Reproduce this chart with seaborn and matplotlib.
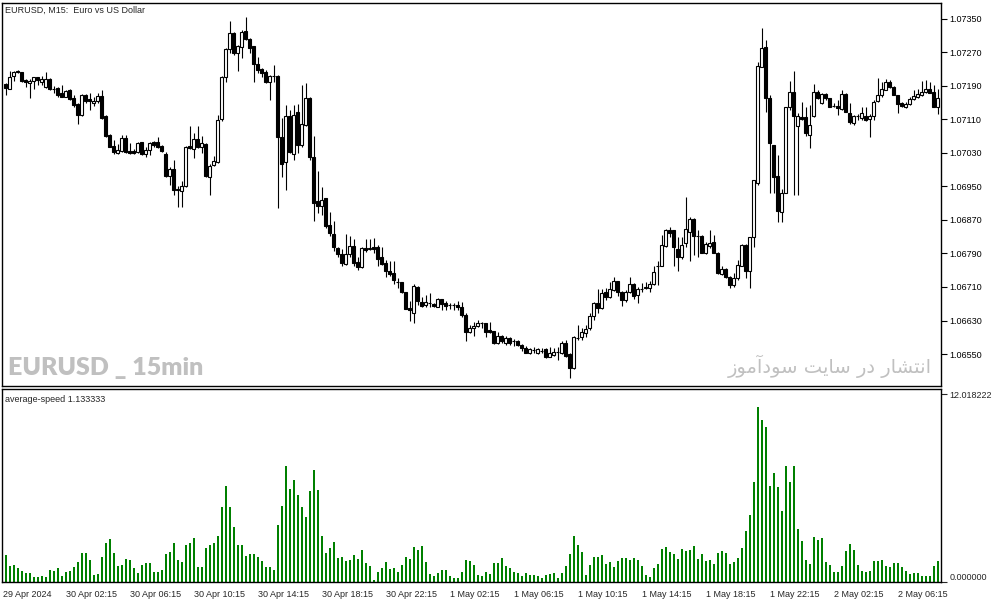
import numpy as np
import pandas as pd
import matplotlib.pyplot as plt
import seaborn as sns

# EURUSD M15 candles (29 Apr 22:30 -> 2 May 08:45)
opens = [1.07195, 1.07183, 1.07214, 1.07226, 1.07223, 1.07204, 1.07197, 1.07201, 1.07210, 1.07199,
         1.07187, 1.07206, 1.07182, 1.07185, 1.07172, 1.07164, 1.07179, 1.07160, 1.07147, 1.07121,
         1.07168, 1.07158, 1.07148, 1.07153, 1.07166, 1.07118, 1.07073, 1.07047, 1.07029, 1.07035,
         1.07066, 1.07035, 1.07035, 1.07033, 1.07055, 1.07028, 1.07037, 1.07055, 1.07055, 1.07047,
         1.07028, 1.06975, 1.06991, 1.06943, 1.06940, 1.06950, 1.07047, 1.07040, 1.07062, 1.07045,
         1.07052, 1.06973, 1.07000, 1.07008, 1.07112, 1.07212, 1.07277, 1.07315, 1.07268, 1.07282,
         1.07321, 1.07301, 1.07284, 1.07242, 1.07231, 1.07222, 1.07200, 1.07214, 1.07214, 1.07069,
         1.07008, 1.07117, 1.07028, 1.07128, 1.07049, 1.07097, 1.07160, 1.07021, 1.06915, 1.06904,
         1.06922, 1.06858, 1.06837, 1.06802, 1.06789, 1.06765, 1.06789, 1.06808, 1.06770, 1.06757,
         1.06804, 1.06800, 1.06806, 1.06805, 1.06782, 1.06767, 1.06748, 1.06744, 1.06722, 1.06722,
         1.06698, 1.06660, 1.06649, 1.06711, 1.06674, 1.06666, 1.06671, 1.06670, 1.06663, 1.06681,
         1.06673, 1.06667, 1.06667, 1.06668, 1.06663, 1.06642, 1.06603, 1.06611, 1.06618, 1.06624,
         1.06623, 1.06607, 1.06605, 1.06576, 1.06594, 1.06576, 1.06589, 1.06580, 1.06582, 1.06572,
         1.06564, 1.06553, 1.06560, 1.06553, 1.06558, 1.06561, 1.06544, 1.06548, 1.06556, 1.06552,
         1.06577, 1.06550, 1.06516, 1.06589, 1.06590, 1.06601, 1.06611, 1.06641, 1.06671, 1.06659,
         1.06698, 1.06687, 1.06703, 1.06724, 1.06698, 1.06679, 1.06697, 1.06716, 1.06691, 1.06706,
         1.06707, 1.06707, 1.06716, 1.06760, 1.06760, 1.06808, 1.06845, 1.06845, 1.06801, 1.06781,
         1.06816, 1.06842, 1.06872, 1.06832, 1.06832, 1.06792, 1.06808, 1.06817, 1.06792, 1.06741,
         1.06753, 1.06735, 1.06715, 1.06731, 1.06761, 1.06810, 1.06747, 1.06829, 1.06959, 1.07236,
         1.07282, 1.07160, 1.07049, 1.06975, 1.06890, 1.06935, 1.07139, 1.07175, 1.07094, 1.07115,
         1.07115, 1.07073, 1.07117, 1.07175, 1.07148, 1.07171, 1.07160, 1.07142, 1.07142, 1.07134,
         1.07170, 1.07126, 1.07101, 1.07119, 1.07113, 1.07118, 1.07110, 1.07117, 1.07155, 1.07168,
         1.07180, 1.07200, 1.07188, 1.07168, 1.07148, 1.07140, 1.07147, 1.07159, 1.07164, 1.07168,
         1.07176, 1.07182, 1.07176, 1.07140]

highs = [1.07196, 1.07226, 1.07226, 1.07228, 1.07224, 1.07206, 1.07206, 1.07212, 1.07212, 1.07214,
         1.07222, 1.07208, 1.07190, 1.07187, 1.07191, 1.07180, 1.07182, 1.07168, 1.07150, 1.07171,
         1.07171, 1.07172, 1.07164, 1.07172, 1.07179, 1.07121, 1.07074, 1.07061, 1.07052, 1.07073,
         1.07073, 1.07053, 1.07039, 1.07057, 1.07057, 1.07045, 1.07057, 1.07059, 1.07069, 1.07048,
         1.07031, 1.06997, 1.07013, 1.06950, 1.06962, 1.07047, 1.07094, 1.07077, 1.07093, 1.07070,
         1.07053, 1.07004, 1.07023, 1.07121, 1.07214, 1.07280, 1.07345, 1.07318, 1.07288, 1.07323,
         1.07355, 1.07304, 1.07284, 1.07260, 1.07232, 1.07228, 1.07216, 1.07239, 1.07215, 1.07113,
         1.07144, 1.07132, 1.07144, 1.07147, 1.07192, 1.07196, 1.07163, 1.07070, 1.06987, 1.06948,
         1.06922, 1.06889, 1.06868, 1.06805, 1.06800, 1.06837, 1.06832, 1.06824, 1.06781, 1.06805,
         1.06825, 1.06825, 1.06827, 1.06810, 1.06805, 1.06775, 1.06772, 1.06771, 1.06732, 1.06723,
         1.06699, 1.06677, 1.06717, 1.06712, 1.06685, 1.06692, 1.06695, 1.06673, 1.06684, 1.06682,
         1.06677, 1.06673, 1.06673, 1.06677, 1.06674, 1.06647, 1.06619, 1.06627, 1.06631, 1.06627,
         1.06625, 1.06627, 1.06606, 1.06603, 1.06595, 1.06592, 1.06590, 1.06585, 1.06584, 1.06573,
         1.06569, 1.06564, 1.06568, 1.06564, 1.06564, 1.06564, 1.06568, 1.06564, 1.06568, 1.06582,
         1.06584, 1.06552, 1.06592, 1.06619, 1.06611, 1.06619, 1.06647, 1.06675, 1.06705, 1.06706,
         1.06707, 1.06722, 1.06735, 1.06725, 1.06700, 1.06703, 1.06735, 1.06719, 1.06709, 1.06719,
         1.06723, 1.06724, 1.06760, 1.06771, 1.06834, 1.06848, 1.06854, 1.06846, 1.06829, 1.06830,
         1.06924, 1.06878, 1.06874, 1.06846, 1.06833, 1.06818, 1.06846, 1.06834, 1.06794, 1.06759,
         1.06755, 1.06736, 1.06743, 1.06775, 1.06813, 1.06813, 1.06829, 1.06966, 1.07248, 1.07327,
         1.07300, 1.07168, 1.07049, 1.07025, 1.06943, 1.07140, 1.07202, 1.07226, 1.07126, 1.07152,
         1.07140, 1.07144, 1.07195, 1.07179, 1.07172, 1.07172, 1.07161, 1.07148, 1.07156, 1.07180,
         1.07172, 1.07148, 1.07121, 1.07123, 1.07139, 1.07139, 1.07123, 1.07156, 1.07208, 1.07198,
         1.07206, 1.07204, 1.07190, 1.07168, 1.07152, 1.07152, 1.07164, 1.07180, 1.07182, 1.07202,
         1.07204, 1.07200, 1.07192, 1.07182]

lows = [1.07167, 1.07182, 1.07202, 1.07220, 1.07200, 1.07187, 1.07160, 1.07182, 1.07193, 1.07192,
        1.07184, 1.07180, 1.07174, 1.07164, 1.07163, 1.07163, 1.07156, 1.07140, 1.07099, 1.07118,
        1.07150, 1.07132, 1.07142, 1.07148, 1.07110, 1.07067, 1.07043, 1.07028, 1.07028, 1.07033,
        1.07029, 1.07028, 1.07028, 1.07029, 1.07025, 1.07021, 1.07025, 1.07045, 1.07041, 1.07033,
        1.06972, 1.06954, 1.06930, 1.06900, 1.06902, 1.06948, 1.07039, 1.07017, 1.07041, 1.07029,
        1.06972, 1.06930, 1.06999, 1.07007, 1.07105, 1.07200, 1.07268, 1.07264, 1.07226, 1.07256,
        1.07300, 1.07268, 1.07200, 1.07220, 1.07212, 1.07196, 1.07156, 1.07200, 1.06898, 1.06973,
        1.06941, 1.07029, 1.07013, 1.07029, 1.07045, 1.07094, 1.07013, 1.06868, 1.06886, 1.06882,
        1.06850, 1.06832, 1.06797, 1.06781, 1.06759, 1.06763, 1.06781, 1.06760, 1.06751, 1.06755,
        1.06794, 1.06798, 1.06790, 1.06759, 1.06763, 1.06733, 1.06736, 1.06716, 1.06708, 1.06695,
        1.06657, 1.06630, 1.06625, 1.06667, 1.06662, 1.06663, 1.06662, 1.06663, 1.06662, 1.06654,
        1.06654, 1.06657, 1.06655, 1.06654, 1.06638, 1.06580, 1.06600, 1.06592, 1.06615, 1.06611,
        1.06590, 1.06600, 1.06573, 1.06573, 1.06576, 1.06572, 1.06572, 1.06570, 1.06569, 1.06558,
        1.06552, 1.06551, 1.06552, 1.06550, 1.06552, 1.06541, 1.06542, 1.06545, 1.06536, 1.06550,
        1.06544, 1.06494, 1.06514, 1.06584, 1.06584, 1.06590, 1.06607, 1.06631, 1.06647, 1.06657,
        1.06679, 1.06683, 1.06701, 1.06689, 1.06665, 1.06675, 1.06695, 1.06681, 1.06671, 1.06699,
        1.06705, 1.06697, 1.06715, 1.06715, 1.06759, 1.06805, 1.06829, 1.06760, 1.06749, 1.06776,
        1.06805, 1.06773, 1.06786, 1.06782, 1.06790, 1.06789, 1.06802, 1.06790, 1.06741, 1.06739,
        1.06731, 1.06707, 1.06711, 1.06727, 1.06759, 1.06731, 1.06707, 1.06806, 1.06954, 1.07234,
        1.07128, 1.06934, 1.06934, 1.06866, 1.06864, 1.06934, 1.07132, 1.06930, 1.06930, 1.07109,
        1.07070, 1.07041, 1.07115, 1.07158, 1.07147, 1.07156, 1.07139, 1.07139, 1.07121, 1.07132,
        1.07127, 1.07099, 1.07097, 1.07109, 1.07109, 1.07105, 1.07069, 1.07109, 1.07152, 1.07164,
        1.07179, 1.07184, 1.07167, 1.07126, 1.07139, 1.07138, 1.07144, 1.07156, 1.07161, 1.07166,
        1.07174, 1.07172, 1.07139, 1.07123]

closes = [1.07184, 1.07212, 1.07222, 1.07222, 1.07202, 1.07200, 1.07202, 1.07210, 1.07204, 1.07207,
          1.07207, 1.07182, 1.07182, 1.07167, 1.07164, 1.07177, 1.07158, 1.07144, 1.07121, 1.07168,
          1.07155, 1.07153, 1.07155, 1.07166, 1.07113, 1.07070, 1.07045, 1.07031, 1.07037, 1.07066,
          1.07033, 1.07029, 1.07029, 1.07053, 1.07028, 1.07037, 1.07053, 1.07048, 1.07045, 1.07035,
          1.06975, 1.06991, 1.06941, 1.06942, 1.06951, 1.07045, 1.07041, 1.07062, 1.07045, 1.07053,
          1.06975, 1.06999, 1.07010, 1.07109, 1.07210, 1.07277, 1.07315, 1.07268, 1.07284, 1.07319,
          1.07301, 1.07280, 1.07241, 1.07228, 1.07220, 1.07200, 1.07214, 1.07214, 1.07067, 1.07004,
          1.07117, 1.07031, 1.07121, 1.07049, 1.07099, 1.07160, 1.07020, 1.06910, 1.06904, 1.06918,
          1.06856, 1.06838, 1.06806, 1.06789, 1.06768, 1.06789, 1.06808, 1.06768, 1.06757, 1.06802,
          1.06799, 1.06804, 1.06801, 1.06778, 1.06765, 1.06747, 1.06740, 1.06727, 1.06722, 1.06697,
          1.06658, 1.06654, 1.06712, 1.06677, 1.06665, 1.06674, 1.06671, 1.06665, 1.06681, 1.06670,
          1.06665, 1.06667, 1.06666, 1.06662, 1.06642, 1.06603, 1.06611, 1.06618, 1.06625, 1.06623,
          1.06603, 1.06603, 1.06576, 1.06594, 1.06580, 1.06588, 1.06576, 1.06580, 1.06572, 1.06564,
          1.06553, 1.06561, 1.06560, 1.06561, 1.06558, 1.06544, 1.06552, 1.06556, 1.06556, 1.06576,
          1.06545, 1.06517, 1.06590, 1.06588, 1.06603, 1.06609, 1.06641, 1.06671, 1.06659, 1.06695,
          1.06687, 1.06705, 1.06724, 1.06697, 1.06679, 1.06697, 1.06716, 1.06689, 1.06705, 1.06706,
          1.06711, 1.06717, 1.06745, 1.06760, 1.06810, 1.06845, 1.06840, 1.06805, 1.06781, 1.06810,
          1.06848, 1.06872, 1.06832, 1.06832, 1.06792, 1.06812, 1.06816, 1.06792, 1.06743, 1.06753,
          1.06733, 1.06715, 1.06731, 1.06763, 1.06810, 1.06747, 1.06829, 1.06965, 1.07237, 1.07280,
          1.07160, 1.07053, 1.06973, 1.06892, 1.06935, 1.07139, 1.07175, 1.07117, 1.07117, 1.07110,
          1.07078, 1.07097, 1.07175, 1.07160, 1.07170, 1.07160, 1.07140, 1.07142, 1.07136, 1.07170,
          1.07128, 1.07103, 1.07117, 1.07119, 1.07126, 1.07109, 1.07118, 1.07152, 1.07169, 1.07182,
          1.07200, 1.07187, 1.07168, 1.07147, 1.07142, 1.07147, 1.07159, 1.07166, 1.07170, 1.07176,
          1.07182, 1.07174, 1.07140, 1.07160]

# average-speed indicator (green histogram)
speed = [1.73, 1.02, 1.09, 0.90, 0.70, 0.58, 0.58, 0.32, 0.32, 0.38,
         0.32, 0.77, 0.70, 0.90, 0.38, 0.64, 0.70, 0.96, 1.28, 1.86,
         1.86, 1.41, 0.45, 0.51, 1.60, 2.49, 2.75, 1.86, 1.02, 1.09,
         1.47, 1.41, 0.90, 0.58, 1.09, 1.22, 1.22, 0.64, 0.64, 0.77,
         1.79, 1.92, 2.49, 1.41, 1.28, 2.37, 2.49, 2.81, 0.96, 0.96,
         2.17, 2.37, 2.49, 2.94, 4.80, 6.14, 4.80, 3.52, 2.37, 2.37,
         1.66, 1.79, 1.79, 1.60, 1.34, 0.96, 0.96, 0.77, 3.65, 4.86,
         7.42, 5.95, 6.52, 5.57, 4.80, 4.16, 5.82, 7.16, 5.88, 2.94,
         1.86, 2.17, 2.56, 1.54, 1.60, 1.34, 1.41, 1.73, 1.47, 2.05,
         1.22, 1.02, 0.13, 0.64, 0.90, 1.28, 0.83, 0.90, 0.64, 1.09,
         1.60, 1.47, 2.24, 2.05, 2.30, 1.28, 0.51, 0.38, 0.58, 0.77,
         0.77, 0.38, 0.26, 0.26, 0.64, 1.41, 1.34, 1.09, 0.45, 0.38,
         0.64, 0.51, 1.22, 1.22, 1.54, 1.02, 0.90, 0.64, 0.58, 0.38,
         0.58, 0.45, 0.45, 0.38, 0.26, 0.45, 0.51, 0.58, 0.26, 0.58,
         1.02, 1.79, 2.94, 2.37, 1.92, 0.45, 1.09, 1.60, 1.60, 1.73,
         1.15, 1.28, 0.96, 1.34, 1.54, 1.54, 1.41, 1.54, 1.41, 1.02,
         0.45, 0.32, 0.90, 1.15, 2.11, 2.24, 1.92, 1.79, 1.47, 2.11,
         1.98, 2.05, 2.30, 1.47, 1.79, 1.34, 1.41, 1.15, 1.86, 1.98,
         1.86, 1.15, 1.28, 1.54, 2.17, 3.26, 4.29, 6.40, 11.19, 10.36,
         9.91, 6.14, 6.97, 6.08, 4.54, 7.42, 6.40, 7.42, 3.39, 2.62,
         1.41, 1.15, 2.88, 2.69, 2.81, 1.28, 1.09, 0.64, 0.64, 1.02,
         1.98, 2.43, 2.05, 1.09, 0.70, 0.64, 0.70, 1.34, 1.34, 1.41,
         1.02, 0.96, 1.22, 1.22, 0.96, 0.70, 0.51, 0.58, 0.58, 0.38,
         0.38, 0.38, 1.02, 1.34]

price_ticks = [1.07350, 1.07270, 1.07190, 1.07110, 1.07030, 1.06950, 1.06870, 1.06790, 1.06710, 1.06630, 1.06550]
time_tick_bars = [-0.75, 15, 31, 47, 63, 79, 95, 111, 127, 143, 159, 175, 191, 207, 223]
time_tick_labels = ["29 Apr 2024", "30 Apr 02:15", "30 Apr 06:15", "30 Apr 10:15", "30 Apr 14:15",
                    "30 Apr 18:15", "30 Apr 22:15", "1 May 02:15", "1 May 06:15", "1 May 10:15",
                    "1 May 14:15", "1 May 18:15", "1 May 22:15", "2 May 02:15", "2 May 06:15"]
speed_ticks = [0.0, 12.018222]

sns.set_style("white")
plt.rcParams['font.family'] = ['Liberation Sans', 'DejaVu Sans']

n = len(closes)
bars = np.arange(n)
o = np.array(opens)
c = np.array(closes)
up = c >= o

fig = plt.figure(figsize=(9.94, 6.03), dpi=100)
ax1 = fig.add_axes([0.002, 0.3599, 0.9447, 0.6352])
ax2 = fig.add_axes([0.002, 0.0348, 0.9447, 0.3201])

# candles: wicks then bodies
ax1.vlines(bars, lows, highs, color='black', linewidth=0.8, zorder=1)
ax1.bar(bars, c - o, bottom=o, width=0.6, color=np.where(up, 'white', 'black'),
        edgecolor='black', linewidth=0.8, zorder=2)
ax1.set_xlim(-0.925, 233.85)
ax1.set_ylim(1.064738, 1.073878)
ax1.set_xticks([])
ax1.yaxis.tick_right()
ax1.set_yticks(price_ticks)
ax1.set_yticklabels([f"{p:.5f}" for p in price_ticks])
ax1.tick_params(axis='y', direction='out', length=4, width=0.8, labelsize=6.5, pad=2, colors='black')

ax1.text(0.0032, 0.982, "EURUSD, M15:  Euro vs US Dollar", transform=ax1.transAxes,
         fontsize=6.5, va='center', ha='left')
ax1.text(0.0064, 0.047, "EURUSD _ 15min", transform=ax1.transAxes, fontsize=18,
         fontweight='heavy', color='#c0c0c0', va='center', ha='left',
         family=['Lato', 'DejaVu Sans'])
# "انتشار در سایت سودآموز" written in shaped, visual (left-to-right) order
fa_text = "\ufeaf\ufeee\ufee3\ufe81\ufea9\ufeee\ufeb3 \ufe96\ufef3\ufe8e\ufeb3 \ufead\ufea9 \ufead\ufe8e\ufeb8\ufe98\ufee7\ufe8d"
ax1.text(0.9905, 0.052, fa_text, transform=ax1.transAxes, fontsize=14, color='#c0c0c0',
         va='center', ha='right', family=['DejaVu Sans'])

# average-speed histogram
df = pd.DataFrame({'bar': bars, 'speed': speed})
sns.barplot(data=df, x='bar', y='speed', native_scale=True, color='#008000',
            saturation=1, width=0.5, linewidth=0, ax=ax2)
for p in ax2.patches:
    p.set_antialiased(False)
ax2.set_xlabel('')
ax2.set_ylabel('')
ax2.set_xlim(-0.925, 233.85)
ax2.set_ylim(0, 12.34)
ax2.yaxis.tick_right()
ax2.set_yticks(speed_ticks)
ax2.set_yticklabels([f"{v:.6f}" for v in speed_ticks])
ax2.tick_params(axis='y', direction='out', length=4, width=0.8, labelsize=6.5, pad=2)
for lbl in ax2.get_yticklabels():
    if lbl.get_text() == "0.000000":
        lbl.set_va('bottom')
ax2.set_xticks(time_tick_bars)
ax2.set_xticklabels(time_tick_labels, ha='left')
ax2.tick_params(axis='x', direction='out', length=4, width=0.8, labelsize=6.5, pad=1.5)
ax2.text(0.0032, 0.948, "average-speed 1.133333", transform=ax2.transAxes,
         fontsize=6.5, va='center', ha='left')

for ax in (ax1, ax2):
    for sp in ax.spines.values():
        sp.set_visible(True)
        sp.set_color('black')
        sp.set_linewidth(1.0)

fig.savefig('out.png', dpi=100)
